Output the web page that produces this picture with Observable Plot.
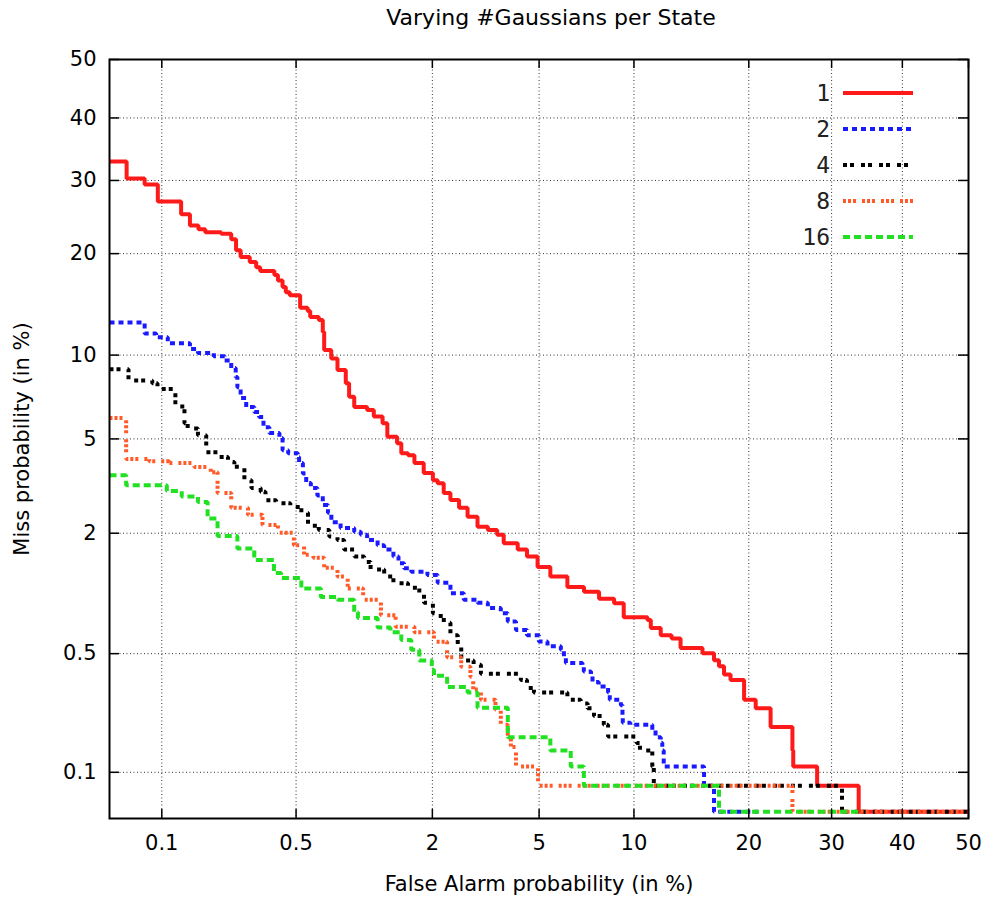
<!DOCTYPE html>
<html>
<head>
<meta charset="utf-8">
<script src="https://cdn.jsdelivr.net/npm/d3@7"></script>
<script src="https://cdn.jsdelivr.net/npm/@observablehq/plot@0.6"></script>
<style>
  body { margin: 0; background: #fff; }
  #wrap { position: relative; width: 987px; height: 898px; overflow: hidden; background: #fff; }
  #title { position: absolute; top: 7px; left: 551px; transform: translateX(-50%); white-space: nowrap;
           font-family: "DejaVu Sans", sans-serif; font-size: 22px; line-height: 22px; color: #000; }
  #chart { position: absolute; top: 40px; left: 0; }
  #legend { position: absolute; left: 740px; top: 75px; }
  .lrow { display: flex; align-items: center; height: 36px; }
  .lrow span { display: inline-block; width: 90px; text-align: right; font-family: "DejaVu Sans Mono", monospace;
               font-size: 23px; color: #222; }
  .lrow svg { margin-left: 13px; }
</style>
</head>
<body>
<div id="wrap">
  <div id="title">Varying #Gaussians per State</div>
  <div id="chart"></div>
  <div id="legend"></div>
</div>
<script>
// ---------- data (values in %) ----------
const seriesNames = ["1", "2", "4", "8", "16"];

const fa1 = [0.05,0.063,0.080,0.095,0.128,0.143,0.159,0.173,0.210,0.237,0.251,0.265,0.295,0.318,0.333,0.392,0.408,0.43,0.446,0.466,0.523,0.568,0.584,0.641,0.669,0.679,0.732,0.782,0.853,0.883,0.931,1.062,1.136,1.24,1.30,1.43,1.49,1.59,1.69,1.845,2.01,2.10,2.22,2.36,2.55,2.75,3.00,3.28,3.55,3.75,4.21,4.54,4.94,5.46,6.22,7.04,7.85,8.73,9.33,10.94,11.18,11.92,12.77,13.5,15.41,16.48,16.96,17.45,18.1,19.5,20.75,22.42,25.0,25.1,28.1,33.7,50];
const miss1 = [32.9,30.3,29.4,26.9,25.1,23.6,23.1,22.7,22.5,21.8,20.4,19.6,19.0,18.4,17.95,17.5,16.9,16.2,15.66,15.34,14.1,13.78,13.22,12.93,11.88,10.39,9.75,8.91,8.02,7.18,6.6,6.43,6.08,5.74,5.10,4.81,4.39,4.31,4.01,3.65,3.41,3.31,3.01,2.81,2.60,2.37,2.14,2.07,1.97,1.80,1.68,1.56,1.39,1.25,1.11,1.05,0.97,0.92,0.78,0.756,0.685,0.627,0.604,0.537,0.503,0.46,0.426,0.383,0.357,0.275,0.246,0.19,0.137,0.109,0.082,0.0554,0.0554];

const fa2 = [0.05,0.080,0.093,0.108,0.143,0.158,0.192,0.219,0.237,0.25,0.255,0.265,0.283,0.311,0.329,0.346,0.37,0.415,0.43,0.458,0.51,0.517,0.539,0.559,0.588,0.631,0.669,0.707,0.733,0.808,0.931,0.996,1.062,1.18,1.26,1.38,1.45,1.53,1.64,1.91,2.10,2.36,2.66,3.00,3.28,3.66,3.88,4.15,4.54,4.99,5.34,5.92,6.06,6.15,6.96,7.03,7.41,7.49,7.83,8.37,8.47,9.15,9.25,9.27,9.76,11.29,11.53,11.92,12.04,12.15,15.55,16.48,21.0];
const miss2 = [12.7,11.75,11.42,10.94,10.47,10.16,9.92,9.6,9.05,8.43,7.77,7.11,6.59,6.32,6.06,5.54,5.27,5.04,4.51,4.39,4.24,4.01,3.63,3.32,3.16,2.94,2.67,2.47,2.24,2.11,2.03,1.97,1.86,1.76,1.68,1.56,1.45,1.37,1.32,1.27,1.164,1.034,0.959,0.926,0.87,0.818,0.742,0.67,0.627,0.581,0.548,0.525,0.48,0.445,0.434,0.399,0.383,0.348,0.328,0.303,0.275,0.256,0.221,0.202,0.196,0.182,0.165,0.153,0.137,0.109,0.082,0.0554,0.0554];

const fa4 = [0.05,0.0646,0.0884,0.0946,0.119,0.1335,0.139,0.158,0.175,0.206,0.228,0.246,0.277,0.301,0.335,0.354,0.40,0.469,0.53,0.57,0.641,0.717,0.782,0.838,0.933,1.03,1.10,1.26,1.38,1.59,1.77,1.85,2.01,2.16,2.29,2.36,2.52,2.60,2.90,3.09,4.32,4.54,4.80,6.22,6.87,7.23,7.57,8.12,8.37,10.18,10.41,11.29,11.4,31.4,50];
const miss4 = [8.97,8.2,8.02,7.66,6.63,5.74,5.48,5.17,4.43,4.24,4.05,3.87,3.41,3.16,3.05,2.80,2.72,2.62,2.47,2.16,2.07,1.93,1.86,1.68,1.56,1.47,1.35,1.25,1.16,1.10,1.03,0.926,0.818,0.756,0.73,0.627,0.545,0.458,0.434,0.387,0.357,0.322,0.303,0.275,0.262,0.246,0.221,0.196,0.167,0.152,0.137,0.109,0.082,0.0554,0.0554];

const fa8 = [0.05,0.0626,0.085,0.110,0.151,0.185,0.201,0.237,0.289,0.342,0.408,0.488,0.546,0.605,0.679,0.782,0.87,1.02,1.22,1.41,1.69,2.03,2.29,2.60,2.82,2.89,3.09,3.50,3.66,3.88,3.98,4.15,4.96,25.0,50];
const miss8 = [6.01,4.16,4.08,4.01,3.86,3.68,3.01,2.60,2.42,2.18,2.01,1.76,1.59,1.54,1.38,1.25,1.09,0.959,0.80,0.697,0.652,0.579,0.478,0.423,0.372,0.315,0.275,0.241,0.196,0.167,0.144,0.109,0.082,0.0554,0.0554];

const fa16 = [0.05,0.0626,0.1067,0.129,0.158,0.178,0.201,0.255,0.311,0.39,0.423,0.53,0.655,0.782,0.931,0.967,1.18,1.34,1.49,1.64,1.77,1.99,2.03,2.29,2.75,3.00,3.88,5.46,6.38,7.03,16.96,33.7];
const miss16 = [3.57,3.25,3.07,2.91,2.75,2.33,1.94,1.70,1.50,1.30,1.23,1.09,0.991,0.959,0.828,0.774,0.689,0.652,0.593,0.525,0.458,0.408,0.377,0.326,0.303,0.247,0.165,0.137,0.109,0.082,0.0554,0.0554];

const tickValues = [0.1, 0.5, 2, 5, 10, 20, 30, 40, 50];
const tickLabels = ["0.1", "0.5", "2", "5", "10", "20", "30", "40", "50"];
const axisMin = 0.05, axisMax = 50;

// ---------- styles ----------
const seriesColors = ["#ff1a1a", "#1a1aff", "#000000", "#ff5a28", "#22e022"];
const seriesDash = [null, "5,4", "4,3,4,7", "3,2,3,2,3,6", "7,4"];

// ---------- normal deviate (probit) ----------
function probit(p) {
  const a = [-3.969683028665376e+01, 2.209460984245205e+02, -2.759285104469687e+02, 1.383577518672690e+02, -3.066479806614716e+01, 2.506628277459239e+00];
  const b = [-5.447609879822406e+01, 1.615858368580409e+02, -1.556989798598866e+02, 6.680131188771972e+01, -1.328068155288572e+01];
  const c = [-7.784894002430293e-03, -3.223964580411365e-01, -2.400758277161838e+00, -2.549732539343734e+00, 4.374664141464968e+00, 2.938163982698783e+00];
  const d = [7.784695709041462e-03, 3.224671290700398e-01, 2.445134137142996e+00, 3.754408661907416e+00];
  const pl = 0.02425, ph = 1 - pl;
  let q, r;
  if (p < pl) {
    q = Math.sqrt(-2 * Math.log(p));
    return (((((c[0]*q+c[1])*q+c[2])*q+c[3])*q+c[4])*q+c[5]) / ((((d[0]*q+d[1])*q+d[2])*q+d[3])*q+1);
  }
  if (p <= ph) {
    q = p - 0.5; r = q * q;
    return (((((a[0]*r+a[1])*r+a[2])*r+a[3])*r+a[4])*r+a[5])*q / (((((b[0]*r+b[1])*r+b[2])*r+b[3])*r+b[4])*r+1);
  }
  q = Math.sqrt(-2 * Math.log(1 - p));
  return -(((((c[0]*q+c[1])*q+c[2])*q+c[3])*q+c[4])*q+c[5]) / ((((d[0]*q+d[1])*q+d[2])*q+d[3])*q+1);
}
const P = v => probit(v / 100);

const seriesData = [[fa1, miss1], [fa2, miss2], [fa4, miss4], [fa8, miss8], [fa16, miss16]];
const rows = seriesData.flatMap(([fa, miss], k) =>
  fa.map((f, i) => ({series: seriesNames[k], fa: f, miss: miss[i]})));

const W = 987, H = 858, mT = 19, mB = 80, mL = 109, mR = 19;
const innerW = W - mL - mR, innerH = H - mT - mB;
const tickP = tickValues.map(P);
const gridP = tickValues.filter(v => v < axisMax).map(P);
const fmt = d => tickLabels[tickP.findIndex(t => Math.abs(t - d) < 1e-9)];

const lineMarks = seriesNames.map((name, k) =>
  Plot.line(rows.filter(r => r.series === name), {
    x: d => P(d.fa), y: d => P(d.miss), curve: "step-after",
    stroke: seriesColors[k], strokeWidth: 4,
    strokeDasharray: seriesDash[k] ?? undefined,
    strokeLinecap: "butt", strokeLinejoin: "miter", clip: true
  }));

const chart = Plot.plot({
  width: W, height: H,
  marginTop: mT, marginBottom: mB, marginLeft: mL, marginRight: mR,
  style: {fontFamily: "DejaVu Sans, sans-serif", fontSize: "21px", color: "#000", background: "#fff", overflow: "visible"},
  x: {type: "linear", domain: [P(axisMin), P(axisMax)]},
  y: {type: "linear", domain: [P(axisMin), P(axisMax)]},
  marks: [
    Plot.ruleX(gridP, {stroke: "#333", strokeWidth: 1, strokeDasharray: "1,2.5"}),
    Plot.ruleY(gridP, {stroke: "#333", strokeWidth: 1, strokeDasharray: "1,2.5"}),
    ...lineMarks,
    Plot.ruleX(tickP, {stroke: "#000", strokeWidth: 1.5, insetTop: innerH - 9}),
    Plot.ruleX(tickP, {stroke: "#000", strokeWidth: 1.5, insetBottom: innerH - 9}),
    Plot.ruleY(tickP, {stroke: "#000", strokeWidth: 1.5, insetRight: innerW - 10}),
    Plot.ruleY(tickP, {stroke: "#000", strokeWidth: 1.5, insetLeft: innerW - 10}),
    Plot.axisX(tickP, {anchor: "bottom", tickSize: 0, tickPadding: 17, tickFormat: fmt,
      label: "False Alarm probability (in %)", labelAnchor: "center", labelOffset: 72, labelArrow: "none"}),
    Plot.axisY(tickP, {anchor: "left", tickSize: 0, tickPadding: 13, tickFormat: fmt,
      label: "Miss probability (in %)", labelAnchor: "center", labelOffset: 95, labelArrow: "none"}),
    Plot.frame({stroke: "#000", strokeWidth: 2})
  ]
});
document.getElementById("chart").appendChild(chart);

// ---------- legend ----------
const legend = document.getElementById("legend");
seriesNames.forEach((name, k) => {
  const row = document.createElement("div");
  row.className = "lrow";
  const label = document.createElement("span");
  label.textContent = name;
  row.appendChild(label);
  const svg = d3.create("svg").attr("width", 70).attr("height", 8);
  svg.append("line").attr("x1", 0).attr("x2", 70).attr("y1", 4).attr("y2", 4)
    .attr("stroke", seriesColors[k]).attr("stroke-width", 4)
    .attr("stroke-dasharray", seriesDash[k]);
  row.appendChild(svg.node());
  legend.appendChild(row);
});
</script>
</body>
</html>
